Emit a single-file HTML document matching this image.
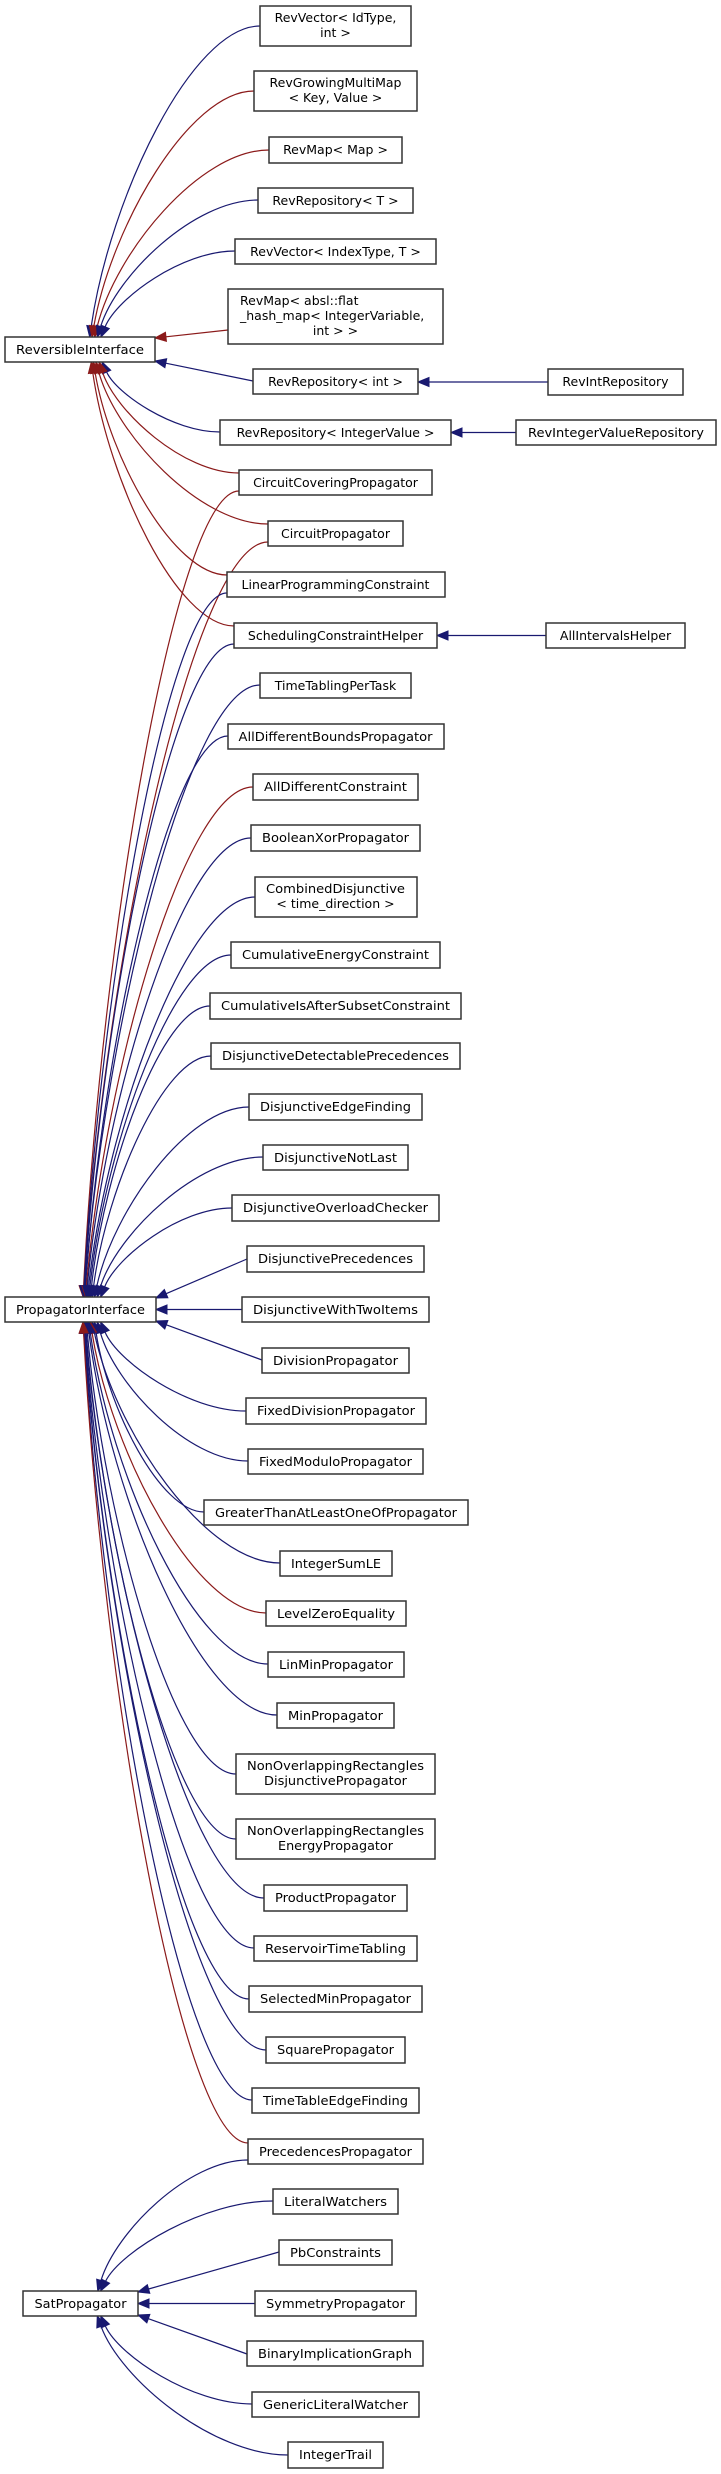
<!DOCTYPE html>
<html><head><meta charset="utf-8"><style>
html,body{margin:0;padding:0;background:#fff;}
svg{display:block;}
text{font-family:"DejaVu Sans","Liberation Sans",sans-serif;font-size:12.5px;fill:#000;}
rect{fill:#fff;stroke:#333;stroke-width:1.5;}
</style></head><body>
<svg id="s" width="721" height="2474" viewBox="0 0 721 2474" xmlns="http://www.w3.org/2000/svg">
<g id="edges"></g>
<g id="nodes">
<rect x="5" y="337" width="150" height="25"/><text x="80" y="354" text-anchor="middle" textLength="128" lengthAdjust="spacingAndGlyphs">ReversibleInterface</text>
<rect x="5" y="1297" width="151" height="25"/><text x="80.5" y="1314" text-anchor="middle" textLength="129" lengthAdjust="spacingAndGlyphs">PropagatorInterface</text>
<rect x="23" y="2291" width="115" height="25"/><text x="80.5" y="2308" text-anchor="middle" textLength="92" lengthAdjust="spacingAndGlyphs">SatPropagator</text>

<rect x="260" y="6" width="151" height="40"/><text x="335.5" y="22" text-anchor="middle">RevVector&lt; IdType,</text><text x="335.5" y="37" text-anchor="middle">int &gt;</text>
<rect x="254" y="71" width="163" height="40"/><text x="335.5" y="87" text-anchor="middle">RevGrowingMultiMap</text><text x="335.5" y="102" text-anchor="middle">&lt; Key, Value &gt;</text>
<rect x="269" y="137" width="133" height="26"/><text x="335.5" y="154" text-anchor="middle">RevMap&lt; Map &gt;</text>
<rect x="258" y="188" width="155" height="25"/><text x="335.5" y="205" text-anchor="middle">RevRepository&lt; T &gt;</text>
<rect x="235" y="239" width="201" height="25"/><text x="335.5" y="256" text-anchor="middle">RevVector&lt; IndexType, T &gt;</text>
<rect x="228" y="289" width="215" height="55"/><text x="240" y="305">RevMap&lt; absl::flat</text><text x="240" y="320">_hash_map&lt; IntegerVariable,</text><text x="335.5" y="335" text-anchor="middle">int &gt; &gt;</text>
<rect x="253" y="369" width="165" height="25"/><text x="335.5" y="386" text-anchor="middle">RevRepository&lt; int &gt;</text>
<rect x="220" y="420" width="231" height="25"/><text x="335.5" y="437" text-anchor="middle">RevRepository&lt; IntegerValue &gt;</text>
<rect x="548" y="369" width="135" height="26"/><text x="615.5" y="386" text-anchor="middle">RevIntRepository</text>
<rect x="516" y="420" width="200" height="25"/><text x="616" y="437" text-anchor="middle" textLength="176" lengthAdjust="spacingAndGlyphs">RevIntegerValueRepository</text>
<rect x="239" y="470" width="193" height="25"/><text x="335.5" y="487" text-anchor="middle">CircuitCoveringPropagator</text>
<rect x="268" y="521" width="135" height="25"/><text x="335.5" y="538" text-anchor="middle">CircuitPropagator</text>
<rect x="227" y="572" width="218" height="25"/><text x="335.5" y="589" text-anchor="middle">LinearProgrammingConstraint</text>
<rect x="234" y="623" width="203" height="25"/><text x="335.5" y="640" text-anchor="middle">SchedulingConstraintHelper</text>
<rect x="546" y="623" width="139" height="25"/><text x="615.5" y="640" text-anchor="middle">AllIntervalsHelper</text>
<rect x="260" y="673" width="151" height="25"/><text x="335.5" y="690" text-anchor="middle">TimeTablingPerTask</text>
<rect x="228" y="724" width="216" height="25"/><text x="335.5" y="741" text-anchor="middle" textLength="194" lengthAdjust="spacingAndGlyphs">AllDifferentBoundsPropagator</text>
<rect x="253" y="774" width="165" height="26"/><text x="335.5" y="791" text-anchor="middle" textLength="143" lengthAdjust="spacingAndGlyphs">AllDifferentConstraint</text>
<rect x="251" y="825" width="169" height="26"/><text x="335.5" y="842" text-anchor="middle" textLength="147" lengthAdjust="spacingAndGlyphs">BooleanXorPropagator</text>
<rect x="255" y="877" width="162" height="40"/><text x="335.5" y="893" text-anchor="middle" textLength="139" lengthAdjust="spacingAndGlyphs">CombinedDisjunctive</text><text x="335.5" y="908" text-anchor="middle">&lt; time_direction &gt;</text>
<rect x="231" y="942" width="209" height="26"/><text x="335.5" y="959" text-anchor="middle" textLength="187" lengthAdjust="spacingAndGlyphs">CumulativeEnergyConstraint</text>
<rect x="210" y="993" width="251" height="26"/><text x="335.5" y="1010" text-anchor="middle" textLength="229" lengthAdjust="spacingAndGlyphs">CumulativeIsAfterSubsetConstraint</text>
<rect x="211" y="1043" width="249" height="26"/><text x="335.5" y="1060" text-anchor="middle" textLength="227" lengthAdjust="spacingAndGlyphs">DisjunctiveDetectablePrecedences</text>
<rect x="249" y="1094" width="173" height="26"/><text x="335.5" y="1111" text-anchor="middle" textLength="151" lengthAdjust="spacingAndGlyphs">DisjunctiveEdgeFinding</text>
<rect x="263" y="1145" width="145" height="25"/><text x="335.5" y="1162" text-anchor="middle" textLength="123" lengthAdjust="spacingAndGlyphs">DisjunctiveNotLast</text>
<rect x="232" y="1195" width="207" height="26"/><text x="335.5" y="1212" text-anchor="middle" textLength="185" lengthAdjust="spacingAndGlyphs">DisjunctiveOverloadChecker</text>
<rect x="247" y="1246" width="177" height="26"/><text x="335.5" y="1263" text-anchor="middle" textLength="155" lengthAdjust="spacingAndGlyphs">DisjunctivePrecedences</text>
<rect x="242" y="1297" width="187" height="25"/><text x="335.5" y="1314" text-anchor="middle" textLength="165" lengthAdjust="spacingAndGlyphs">DisjunctiveWithTwoItems</text>
<rect x="262" y="1348" width="147" height="25"/><text x="335.5" y="1365" text-anchor="middle" textLength="125" lengthAdjust="spacingAndGlyphs">DivisionPropagator</text>
<rect x="246" y="1398" width="180" height="26"/><text x="336" y="1415" text-anchor="middle" textLength="158" lengthAdjust="spacingAndGlyphs">FixedDivisionPropagator</text>
<rect x="248" y="1449" width="175" height="25"/><text x="335.5" y="1466" text-anchor="middle" textLength="153" lengthAdjust="spacingAndGlyphs">FixedModuloPropagator</text>
<rect x="204" y="1500" width="264" height="25"/><text x="336" y="1517" text-anchor="middle" textLength="242" lengthAdjust="spacingAndGlyphs">GreaterThanAtLeastOneOfPropagator</text>
<rect x="280" y="1551" width="112" height="25"/><text x="336" y="1568" text-anchor="middle" textLength="90" lengthAdjust="spacingAndGlyphs">IntegerSumLE</text>
<rect x="266" y="1601" width="140" height="25"/><text x="336" y="1618" text-anchor="middle" textLength="118" lengthAdjust="spacingAndGlyphs">LevelZeroEquality</text>
<rect x="268" y="1652" width="136" height="25"/><text x="336" y="1669" text-anchor="middle" textLength="114" lengthAdjust="spacingAndGlyphs">LinMinPropagator</text>
<rect x="277" y="1703" width="117" height="25"/><text x="335.5" y="1720" text-anchor="middle" textLength="95" lengthAdjust="spacingAndGlyphs">MinPropagator</text>
<rect x="236" y="1754" width="199" height="40"/><text x="335.5" y="1770" text-anchor="middle" textLength="177" lengthAdjust="spacingAndGlyphs">NonOverlappingRectangles</text><text x="335.5" y="1785" text-anchor="middle" textLength="143" lengthAdjust="spacingAndGlyphs">DisjunctivePropagator</text>
<rect x="236" y="1819" width="199" height="40"/><text x="335.5" y="1835" text-anchor="middle" textLength="177" lengthAdjust="spacingAndGlyphs">NonOverlappingRectangles</text><text x="335.5" y="1850" text-anchor="middle" textLength="115" lengthAdjust="spacingAndGlyphs">EnergyPropagator</text>
<rect x="264" y="1885" width="143" height="26"/><text x="335.5" y="1902" text-anchor="middle" textLength="121" lengthAdjust="spacingAndGlyphs">ProductPropagator</text>
<rect x="254" y="1936" width="163" height="25"/><text x="335.5" y="1953" text-anchor="middle" textLength="141" lengthAdjust="spacingAndGlyphs">ReservoirTimeTabling</text>
<rect x="249" y="1986" width="173" height="26"/><text x="335.5" y="2003" text-anchor="middle" textLength="151" lengthAdjust="spacingAndGlyphs">SelectedMinPropagator</text>
<rect x="266" y="2037" width="139" height="26"/><text x="335.5" y="2054" text-anchor="middle" textLength="117" lengthAdjust="spacingAndGlyphs">SquarePropagator</text>
<rect x="252" y="2088" width="167" height="25"/><text x="335.5" y="2105" text-anchor="middle" textLength="145" lengthAdjust="spacingAndGlyphs">TimeTableEdgeFinding</text>
<rect x="248" y="2139" width="175" height="25"/><text x="335.5" y="2156" text-anchor="middle" textLength="153" lengthAdjust="spacingAndGlyphs">PrecedencesPropagator</text>
<rect x="273" y="2189" width="125" height="25"/><text x="335.5" y="2206" text-anchor="middle" textLength="103" lengthAdjust="spacingAndGlyphs">LiteralWatchers</text>
<rect x="279" y="2240" width="113" height="25"/><text x="335.5" y="2257" text-anchor="middle" textLength="91" lengthAdjust="spacingAndGlyphs">PbConstraints</text>
<rect x="255" y="2291" width="161" height="25"/><text x="335.5" y="2308" text-anchor="middle" textLength="139" lengthAdjust="spacingAndGlyphs">SymmetryPropagator</text>
<rect x="247" y="2341" width="176" height="25"/><text x="335" y="2358" text-anchor="middle" textLength="154" lengthAdjust="spacingAndGlyphs">BinaryImplicationGraph</text>
<rect x="252" y="2392" width="167" height="25"/><text x="335.5" y="2409" text-anchor="middle" textLength="145" lengthAdjust="spacingAndGlyphs">GenericLiteralWatcher</text>
<rect x="288" y="2442" width="95" height="26"/><text x="335.5" y="2459" text-anchor="middle" textLength="73" lengthAdjust="spacingAndGlyphs">IntegerTrail</text>
</g>
</svg>
<script>
(function(){
var B='#191970',R='#8b1a1a';
var P={RI:[5,337,155,362],PI:[5,1297,156,1322],SP:[23,2291,138,2316]};
var E=[
[260,26,'RI',B],[254,91,'RI',R],[269,150,'RI',R],[258,200,'RI',B],[235,251,'RI',B],
[228,330,'RI',R],[253,381,'RI',B],[220,432,'RI',B],
[239,473,'RI',R],[268,524,'RI',R],[227,575,'RI',R],[234,626,'RI',R],
[239,491,'PI',R],[268,542,'PI',R],[227,593,'PI',B],[234,644,'PI',B],
[260,685,'PI',B],[228,736,'PI',B],[253,787,'PI',R],[251,838,'PI',B],[255,897,'PI',B],
[231,955,'PI',B],[210,1006,'PI',B],[211,1056,'PI',B],[249,1107,'PI',B],[263,1157,'PI',B],
[232,1208,'PI',B],[247,1259,'PI',B],[242,1309.5,'PI',B],[262,1360,'PI',B],[246,1411,'PI',B],
[248,1461,'PI',B],[204,1512,'PI',B],[280,1563,'PI',B],[266,1613,'PI',R],[268,1664,'PI',B],
[277,1715,'PI',B],[236,1774,'PI',B],[236,1839,'PI',B],[264,1898,'PI',B],[254,1948,'PI',B],
[249,1999,'PI',B],[266,2050,'PI',B],[252,2100,'PI',B],[248,2143,'PI',R],
[248,2160,'SP',B],[273,2201,'SP',B],[279,2252,'SP',B],[255,2303.5,'SP',B],[247,2354,'SP',B],
[252,2404,'SP',B],[288,2455,'SP',B]
];
var g=document.getElementById('edges'),ns='http://www.w3.org/2000/svg';
function add(tag,at){var e=document.createElementNS(ns,tag);for(var k in at)e.setAttribute(k,at[k]);g.appendChild(e);}
function head(fx,fy,tx,ty,c){var dx=tx-fx,dy=ty-fy,l=Math.sqrt(dx*dx+dy*dy)||1;dx/=l;dy/=l;var L=11,W=4.5;
var bx=tx-dx*L,by=ty-dy*L;
add('polygon',{points:tx+','+ty+' '+(bx-dy*W)+','+(by+dx*W)+' '+(bx+dy*W)+','+(by-dx*W),fill:c,stroke:c,'stroke-width':1});
return [bx,by];}
E.forEach(function(e){var cx=e[0],cy=e[1],p=P[e[2]],c=e[3];var pm=(p[1]+p[3])/2,dy=cy-pm,tx,ty;
if(Math.abs(dy)<15){tx=p[2];ty=cy;var b=head(cx,cy,tx,ty,c);add('path',{d:'M'+cx+','+cy+'L'+b[0]+','+b[1],stroke:c,fill:'none','stroke-width':1.2});return;}
if(Math.abs(dy)<=60){tx=p[2];ty=dy<0?p[1]+1:p[3]-1;var b=head(cx,cy,tx,ty,c);add('path',{d:'M'+cx+','+cy+'L'+b[0]+','+b[1],stroke:c,fill:'none','stroke-width':1.2});return;}
tx=82+28*Math.exp(-Math.abs(dy)/250);ty=dy<0?p[1]:p[3];
var ddx=cx-tx,ddy=cy-ty;var c1x=cx-0.4*ddx,c1y=cy,c2x=tx+0.12*ddx,c2y=ty+0.45*ddy;
var b=head(c2x,c2y,tx,ty,c);
add('path',{d:'M'+cx+','+cy+'C'+c1x+','+c1y+' '+c2x+','+c2y+' '+b[0]+','+b[1],stroke:c,fill:'none','stroke-width':1.2});
});
[[548,382,418],[516,432.5,451],[546,635.5,437]].forEach(function(h){var b=head(h[0],h[1],h[2],h[1],B);
add('path',{d:'M'+h[0]+','+h[1]+'L'+b[0]+','+b[1],stroke:B,fill:'none','stroke-width':1.2});});
})();
</script>
</body></html>
